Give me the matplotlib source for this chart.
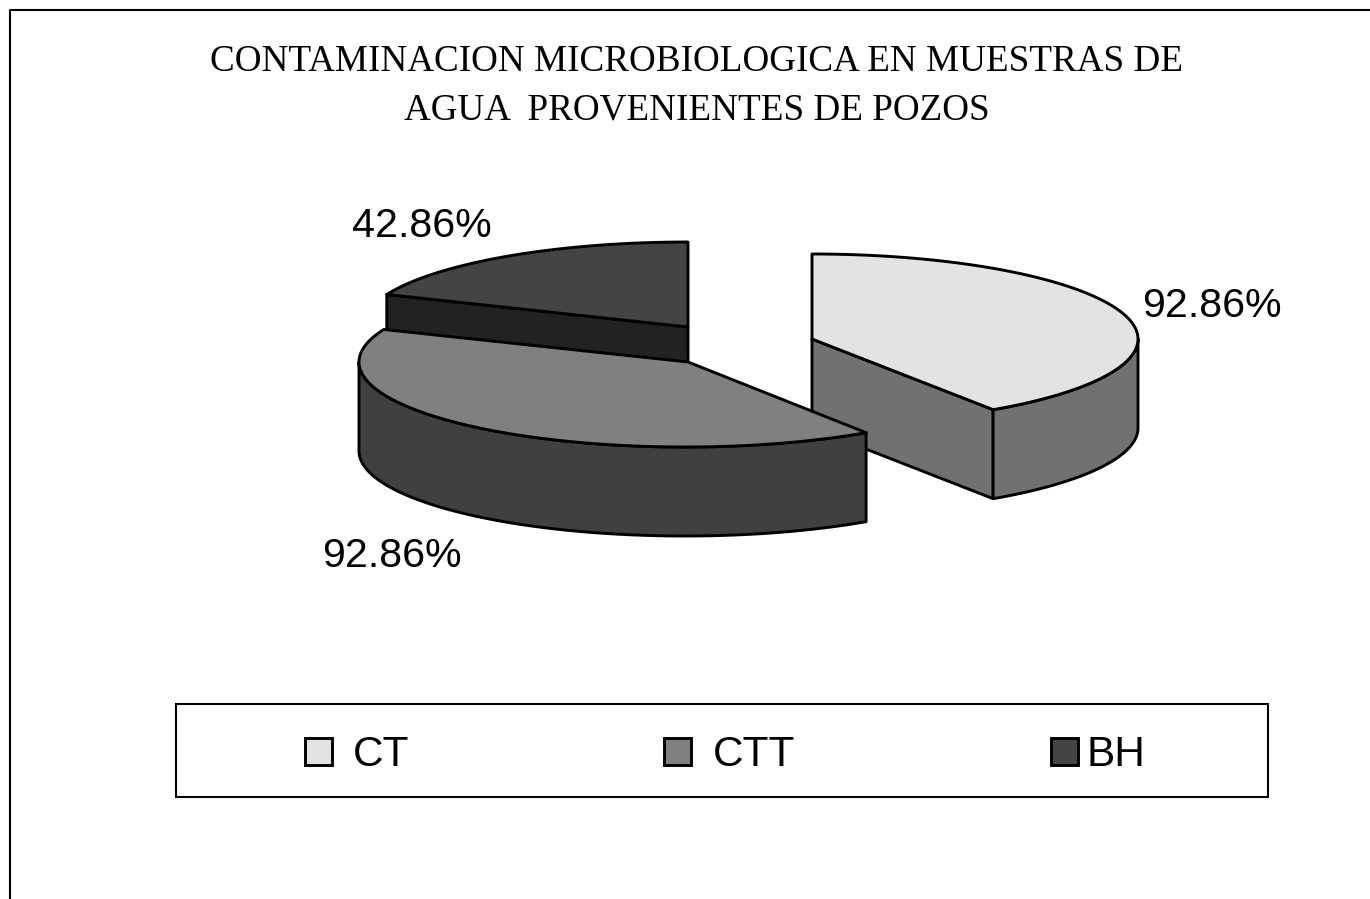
import numpy as np
import matplotlib
matplotlib.use("Agg")
import matplotlib.pyplot as plt
from matplotlib.patches import Polygon, Rectangle

title_lines = ["CONTAMINACION MICROBIOLOGICA EN MUESTRAS DE", "AGUA  PROVENIENTES DE POZOS"]
labels = ["CT", "CTT", "BH"]
values = [92.86, 92.86, 42.86]
value_labels = ["92.86%", "92.86%", "42.86%"]
top_colors = ["#e3e3e3", "#808080", "#444444"]
side_colors = ["#717171", "#404040", "#222222"]

RX = 326
RY = 85
DEPTH = 89


def arc(cx, cy, a0, a1):
    # angles clockwise from 12 o'clock, pie tilted so the circle is squashed
    t = np.radians(np.linspace(a0, a1, 200))
    return np.column_stack([cx + RX * np.sin(t), cy - RY * np.cos(t)])


def face(ax, pts, color):
    ax.add_patch(Polygon(pts, closed=True, facecolor=color, edgecolor="black",
                         linewidth=2.1, joinstyle="round"))


def DrawSlice(ax, cx, cy, apex_x, a0, a1, top, side):
    down = np.array([0, DEPTH])
    apex = np.array([[apex_x, cy]])
    edge = arc(cx, cy, a0, a1)
    # cut faces first, then the outer wall (only the part facing the viewer)
    if a1 <= 180:
        face(ax, np.vstack([apex, edge[-1:], edge[-1:] + down, apex + down]), side)
    if a0 >= 180:
        face(ax, np.vstack([apex, edge[:1], edge[:1] + down, apex + down]), side)
    w0, w1 = max(a0, 90), min(a1, 270)
    if w1 > w0:
        wall = arc(cx, cy, w0, w1)
        face(ax, np.vstack([wall, wall[::-1] + down]), side)
    face(ax, np.vstack([apex, edge]), top)


def main():
    fig = plt.figure(figsize=(13.7, 8.99), dpi=100)
    ax = fig.add_axes([0, 0, 1, 1])
    ax.set_xlim(0, 1370)
    ax.set_ylim(899, 0)
    ax.axis("off")

    # chart frame, only left and top are inside the picture
    ax.plot([10, 10, 1370], [899, 10, 10], color="black", lw=1.5)

    ax.text(697, 62, title_lines[0], family="Liberation Serif", fontsize=26.75,
            ha="center", va="center")
    ax.text(697, 110, title_lines[1], family="Liberation Serif", fontsize=26.75,
            ha="center", va="center")

    angles = np.cumsum([0] + [v / sum(values) * 360 for v in values])
    centers = [(812, 339), (685, 362), (688, 327)]
    apex_x = [812, 688, 688]
    for i in [2, 0, 1]:
        DrawSlice(ax, centers[i][0], centers[i][1], apex_x[i], angles[i], angles[i + 1],
                  top_colors[i], side_colors[i])

    label_pos = [(1212, 306), (392, 556), (422, 226)]
    for txt, pos in zip(value_labels, label_pos):
        ax.text(pos[0], pos[1], txt, family="Liberation Sans", fontsize=29.6,
                ha="center", va="center")

    # legend box
    ax.add_patch(Rectangle((176, 704), 1092, 93, facecolor="white",
                           edgecolor="black", linewidth=1.5))
    key_x = [305, 664, 1051]
    text_x = [353, 713, 1087]
    for i in range(3):
        ax.add_patch(Rectangle((key_x[i], 738), 27, 27, facecolor=top_colors[i],
                               edgecolor="black", linewidth=2.1))
        ax.text(text_x[i], 755, labels[i], family="Liberation Sans", fontsize=30.5,
                ha="left", va="center")

    fig.savefig("out.png", dpi=100)


if __name__ == "__main__":
    main()
